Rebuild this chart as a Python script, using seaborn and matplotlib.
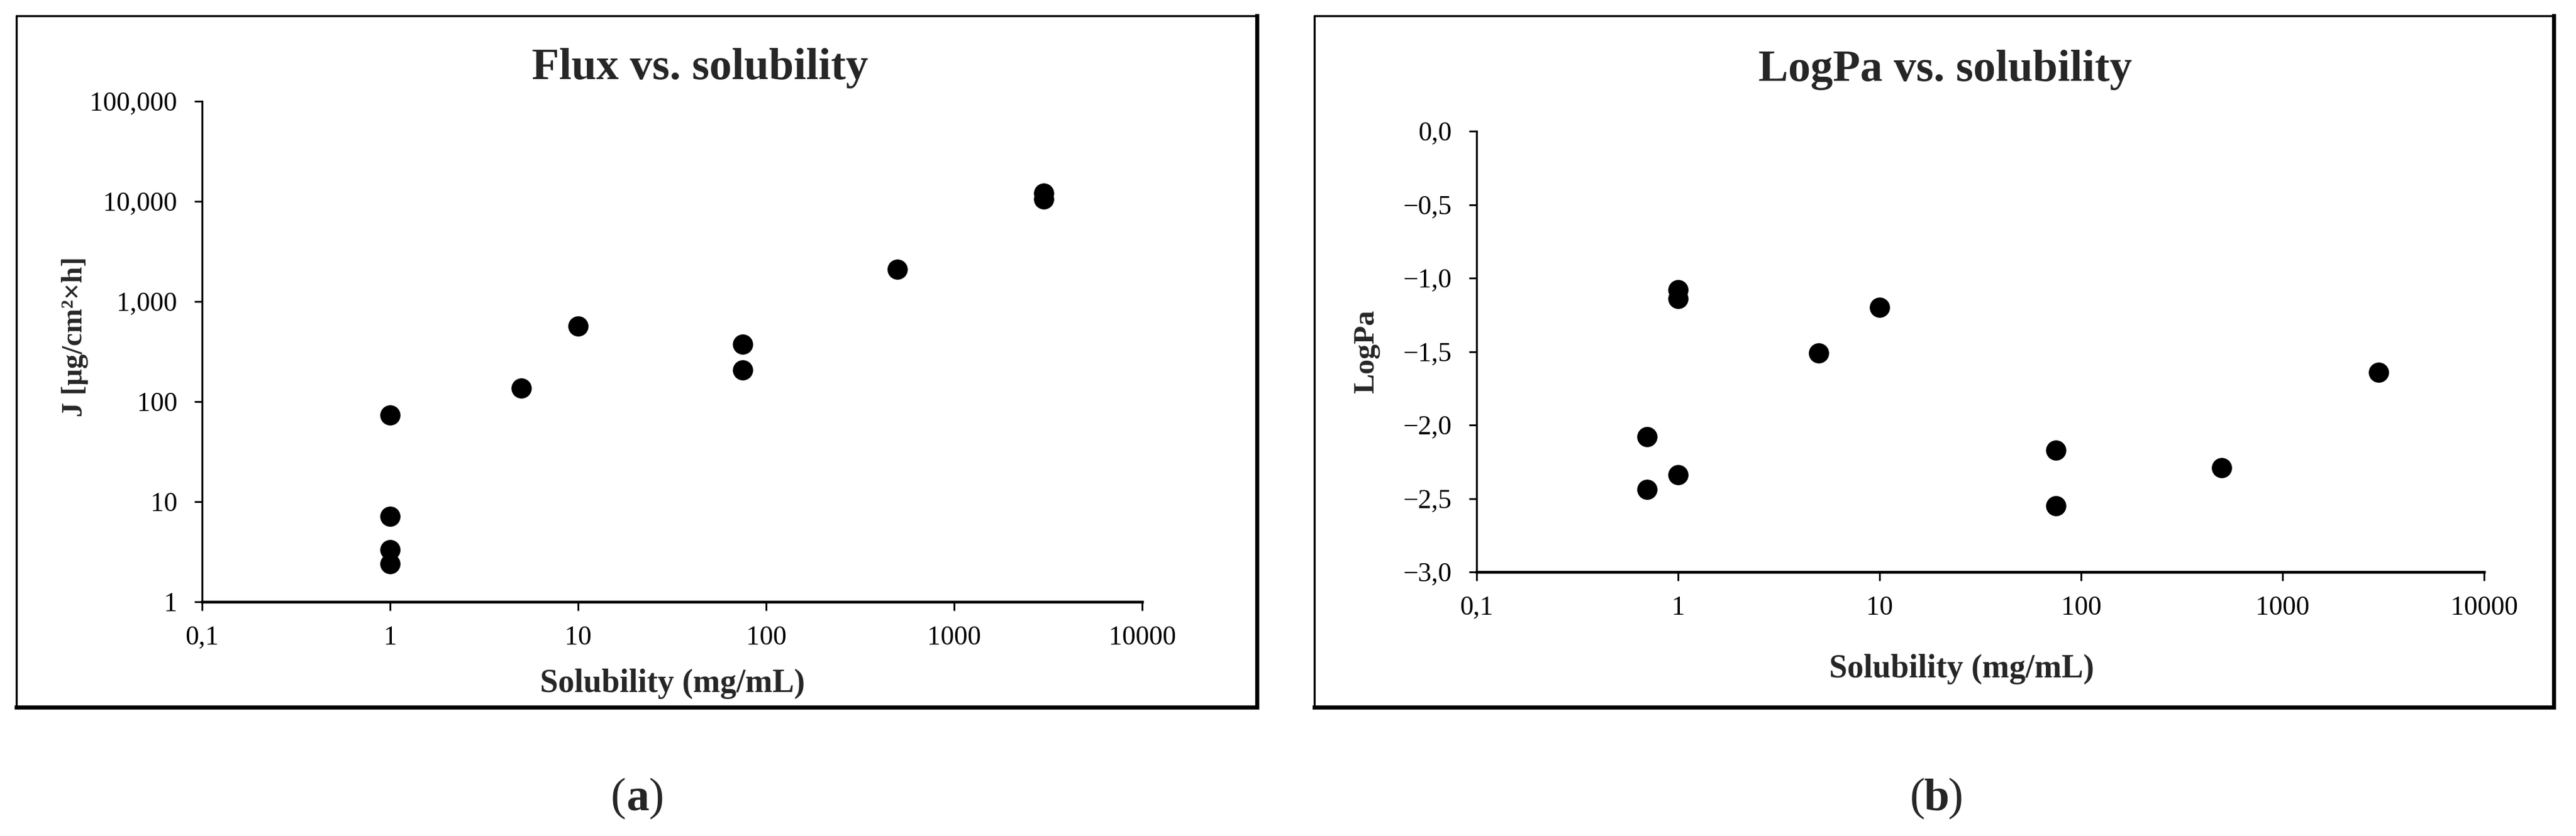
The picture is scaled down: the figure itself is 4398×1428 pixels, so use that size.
import matplotlib
matplotlib.use("Agg")
import matplotlib.pyplot as plt
from matplotlib.lines import Line2D
import seaborn as sns
import pandas as pd

# ---------------- data ----------------
flux_solubility = [1, 1, 1, 1, 5, 10, 75, 75, 500, 3000, 3000]
flux_values = [73, 7.1, 3.3, 2.4, 136, 568, 376, 208, 2100, 12000, 10600]

logpa_solubility = [0.7, 0.7, 1, 1, 1, 5, 10, 75, 75, 500, 3000]
logpa_values = [-2.08, -2.44, -1.08, -1.14, -2.34, -1.51, -1.20, -2.17, -2.55, -2.29, -1.64]

x_ticks = [0.1, 1, 10, 100, 1000, 10000]
x_tick_labels = ["0,1", "1", "10", "100", "1000", "10000"]
flux_ticks = [1, 10, 100, 1000, 10000, 100000]
flux_tick_labels = ["1", "10", "100", "1,000", "10,000", "100,000"]
logpa_ticks = [-3.0, -2.5, -2.0, -1.5, -1.0, -0.5, 0.0]
logpa_tick_labels = ["\u22123,0", "\u22122,5", "\u22122,0", "\u22121,5", "\u22121,0", "\u22120,5", "0,0"]

title_a = "Flux vs. solubility"
title_b = "LogPa vs. solubility"
xlabel = "Solubility (mg/mL)"
ylabel_a = "J [\u03bcg/cm\u00b2\u00d7h]"
ylabel_b = "LogPa"

# ---------------- style ----------------
sns.set_style("white")
plt.rcParams["font.family"] = ["Liberation Serif", "DejaVu Serif"]

W, H = 4398, 1428
DPI = 100
fig = plt.figure(figsize=(W / DPI, H / DPI), dpi=DPI)


def fx(px):
    return px / W


def fy(py):
    return 1 - py / H


def add_axes(x0, x1, ytop, ybot):
    return fig.add_axes([fx(x0), fy(ybot), fx(x1) - fx(x0), fy(ytop) - fy(ybot)])


ax1 = add_axes(345, 1950, 173, 1028)
ax2 = add_axes(2521, 4241, 224, 977)

df1 = pd.DataFrame({"sol": flux_solubility, "J": flux_values})
df2 = pd.DataFrame({"sol": logpa_solubility, "logpa": logpa_values})

sns.scatterplot(data=df1, x="sol", y="J", ax=ax1, s=620, color="black",
                linewidth=0, legend=False, zorder=3)
sns.scatterplot(data=df2, x="sol", y="logpa", ax=ax2, s=620, color="black",
                linewidth=0, legend=False, zorder=3)

for ax in (ax1, ax2):
    ax.set_xscale("log")
    ax.set_xlim(0.1, 10000)
    ax.set_xticks(x_ticks)
    ax.set_xticklabels(x_tick_labels)
    ax.minorticks_off()
    ax.set_xlabel("")
    ax.set_ylabel("")
    ax.spines["top"].set_visible(False)
    ax.spines["right"].set_visible(False)
    ax.spines["left"].set_linewidth(2.4)
    ax.spines["bottom"].set_linewidth(3.4)
    ax.spines["left"].set_color("black")
    ax.spines["bottom"].set_color("black")
    ax.tick_params(axis="x", direction="out", length=11, width=2.2,
                   pad=18, labelsize=33, colors="black", bottom=True)
    ax.tick_params(axis="y", direction="out", length=9.5, width=2.2,
                   pad=21, labelsize=33, colors="black", left=True)
    ax.set_facecolor("white")
    ax.patch.set_alpha(0)

ax1.set_yscale("log")
ax1.set_ylim(1, 100000)
ax1.set_yticks(flux_ticks)
ax1.set_yticklabels(flux_tick_labels)
ax1.minorticks_off()

ax2.set_ylim(-3.0, 0.0)
ax2.set_yticks(logpa_ticks)
ax2.set_yticklabels(logpa_tick_labels)

# titles and labels
fig.text(fx(1195), fy(135), title_a, ha="center", va="baseline",
         fontsize=55, fontweight="bold")
fig.text(fx(3321), fy(138), title_b, ha="center", va="baseline",
         fontsize=55, fontweight="bold")
fig.text(fx(1148), fy(1182), xlabel, ha="center", va="baseline",
         fontsize=40, fontweight="bold")
fig.text(fx(3349), fy(1157), xlabel, ha="center", va="baseline",
         fontsize=40, fontweight="bold")
fig.text(fx(128), fy(575), ylabel_a, ha="center", va="center", rotation=90,
         fontsize=36, fontweight="bold")
fig.text(fx(2333), fy(601), ylabel_b, ha="center", va="center", rotation=90,
         fontsize=37, fontweight="bold")


def panel_label(cx, letter):
    fig.text(fx(cx), fy(1383), letter, ha="center", va="baseline",
             fontsize=56, fontweight="bold")
    fig.text(fx(cx - 20), fy(1383), "(", ha="right", va="baseline", fontsize=56)
    fig.text(fx(cx + 19), fy(1383), ")", ha="left", va="baseline", fontsize=56)


panel_label(1089, "a")
panel_label(3307, "b")


# panel frames (thin top/left, thicker right/bottom)
def frame(x0, x1, y0, y1):
    thin, thick = 2.5, 5.0
    fig.add_artist(Line2D([fx(x0), fx(x1)], [fy(y0), fy(y0)], color="black",
                          lw=thin, transform=fig.transFigure))
    fig.add_artist(Line2D([fx(x0), fx(x0)], [fy(y0), fy(y1)], color="black",
                          lw=thin, transform=fig.transFigure))
    fig.add_artist(Line2D([fx(x1), fx(x1)], [fy(y0), fy(y1)], color="black",
                          lw=thick, transform=fig.transFigure,
                          solid_capstyle="projecting"))
    fig.add_artist(Line2D([fx(x0), fx(x1)], [fy(y1), fy(y1)], color="black",
                          lw=thick, transform=fig.transFigure,
                          solid_capstyle="projecting"))


frame(28, 2146, 27, 1208)
frame(2244, 4360, 27, 1208)

fig.savefig("out.png", dpi=DPI, facecolor="white")
